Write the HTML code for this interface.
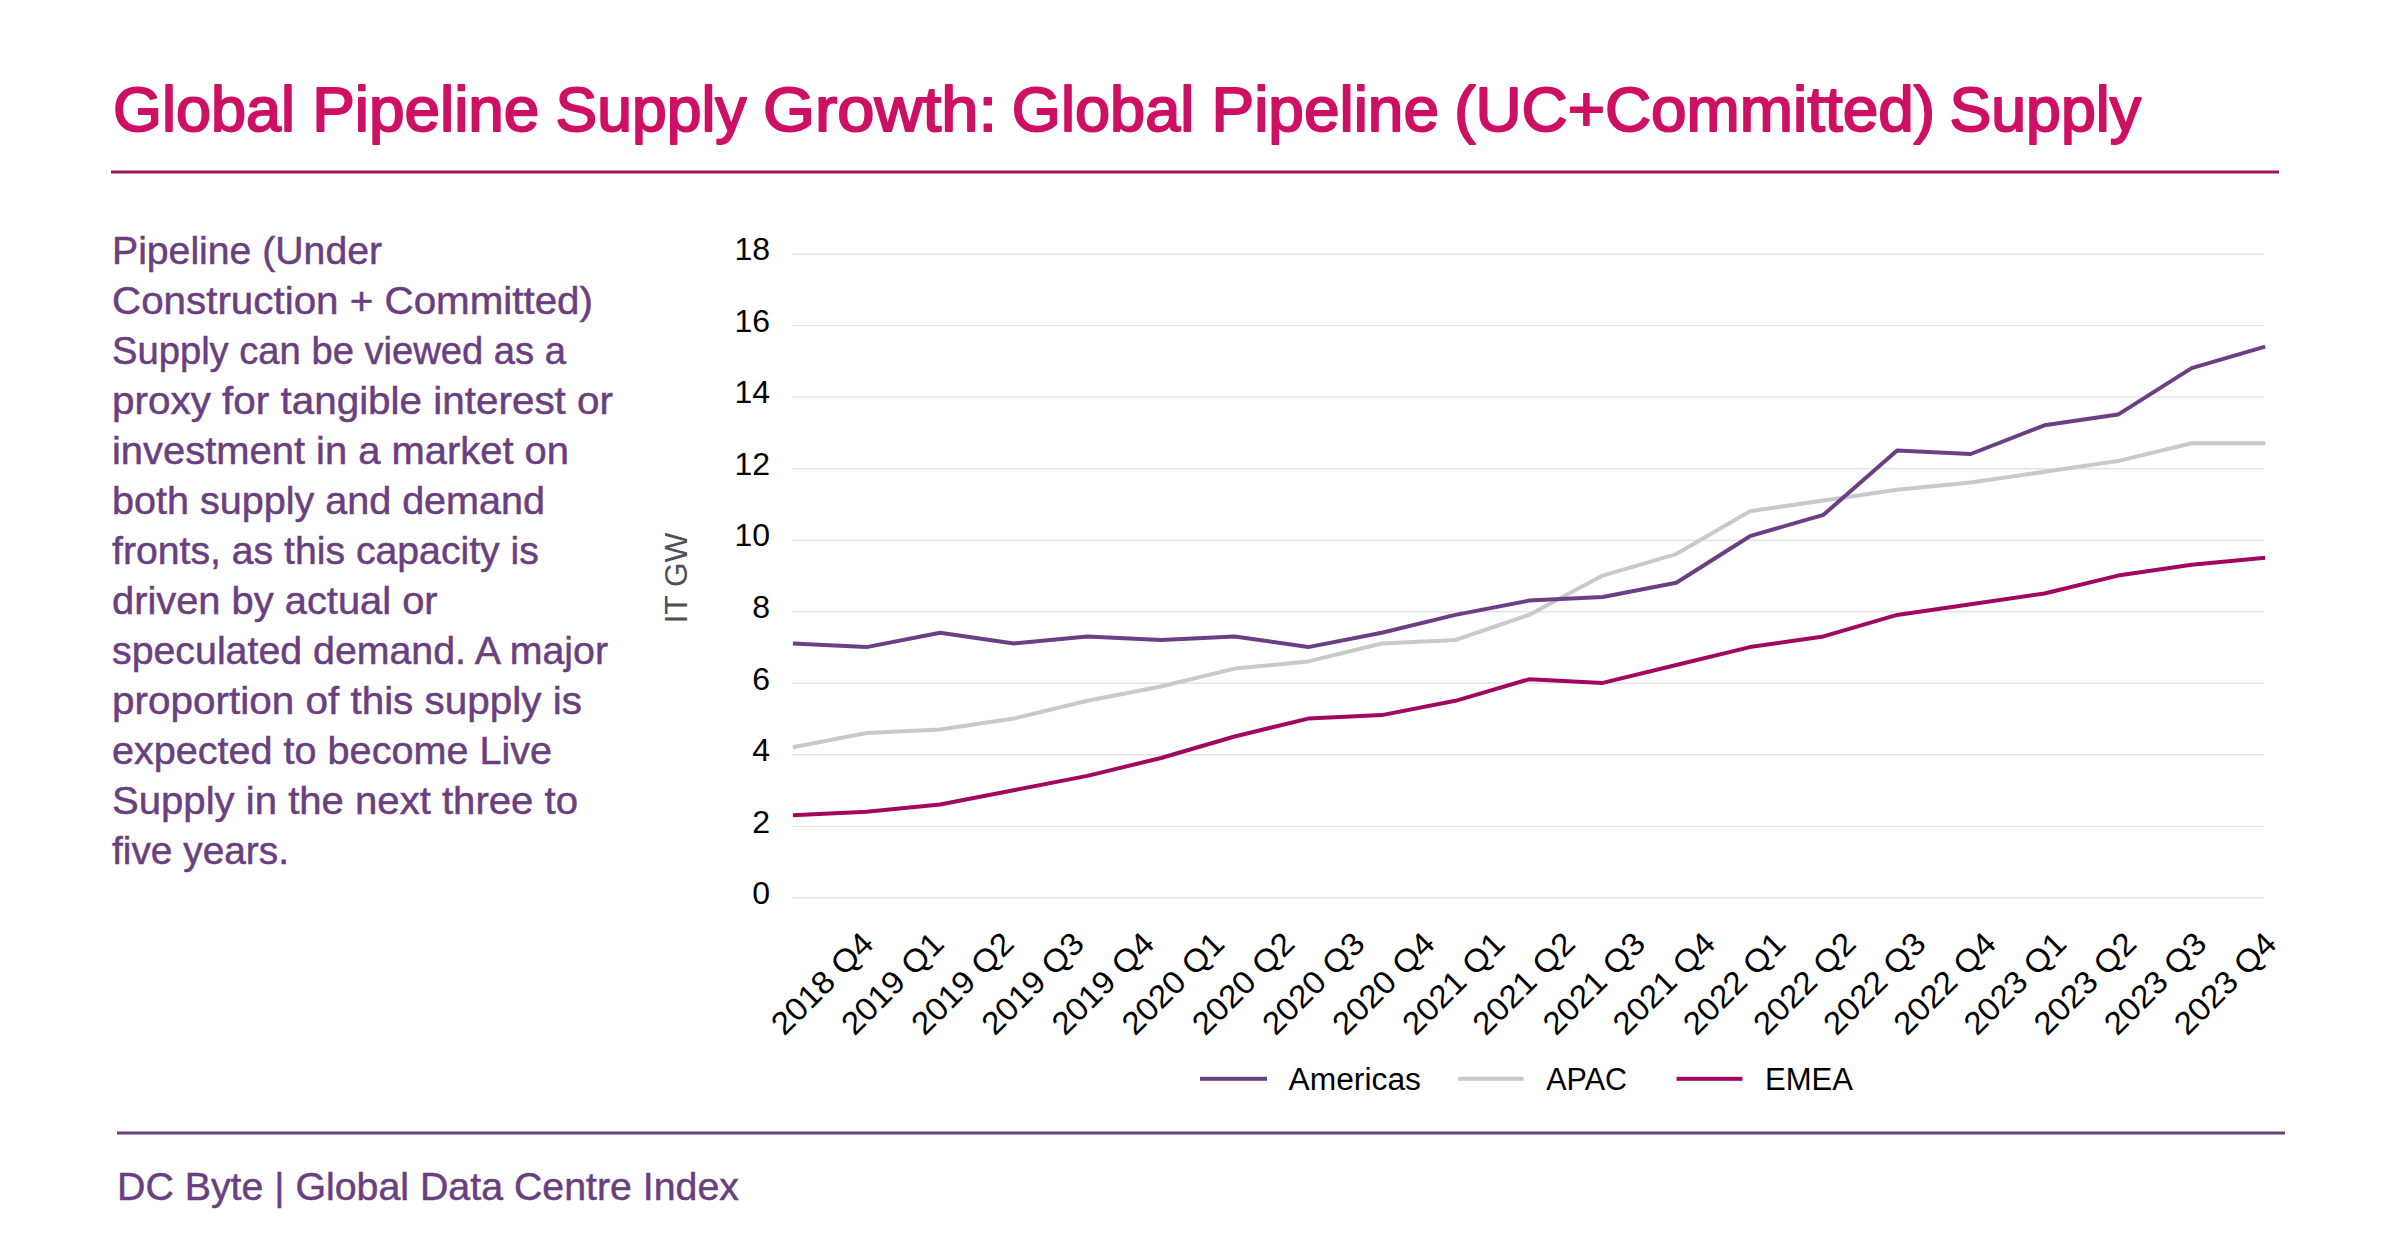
<!DOCTYPE html><html><head><meta charset="utf-8"><style>html,body{margin:0;padding:0;background:#fff;width:2400px;height:1256px;overflow:hidden}svg{display:block;font-family:"Liberation Sans",sans-serif}</style></head><body>
<svg width="2400" height="1256" viewBox="0 0 2400 1256">
<rect width="2400" height="1256" fill="#fff"/>
<text x="113.0" y="131.4" font-size="63.5" fill="#CE1064" font-weight="normal" textLength="182.0" lengthAdjust="spacingAndGlyphs" stroke="#CE1064" stroke-width="2.00" stroke-linejoin="round">Global</text>
<text x="312.2" y="131.4" font-size="63.5" fill="#CE1064" font-weight="normal" textLength="227.2" lengthAdjust="spacingAndGlyphs" stroke="#CE1064" stroke-width="2.00" stroke-linejoin="round">Pipeline</text>
<text x="555.5" y="131.4" font-size="63.5" fill="#CE1064" font-weight="normal" textLength="191.0" lengthAdjust="spacingAndGlyphs" stroke="#CE1064" stroke-width="2.00" stroke-linejoin="round">Supply</text>
<text x="763.0" y="131.4" font-size="63.5" fill="#CE1064" font-weight="normal" textLength="234.0" lengthAdjust="spacingAndGlyphs" stroke="#CE1064" stroke-width="2.00" stroke-linejoin="round">Growth:</text>
<text x="1011.8" y="131.4" font-size="63.5" fill="#CE1064" font-weight="normal" textLength="182.5" lengthAdjust="spacingAndGlyphs" stroke="#CE1064" stroke-width="2.00" stroke-linejoin="round">Global</text>
<text x="1211.5" y="131.4" font-size="63.5" fill="#CE1064" font-weight="normal" textLength="227.5" lengthAdjust="spacingAndGlyphs" stroke="#CE1064" stroke-width="2.00" stroke-linejoin="round">Pipeline</text>
<text x="1454.2" y="131.4" font-size="63.5" fill="#CE1064" font-weight="normal" textLength="480.8" lengthAdjust="spacingAndGlyphs" stroke="#CE1064" stroke-width="2.00" stroke-linejoin="round">(UC+Committed)</text>
<text x="1949.5" y="131.4" font-size="63.5" fill="#CE1064" font-weight="normal" textLength="191.5" lengthAdjust="spacingAndGlyphs" stroke="#CE1064" stroke-width="2.00" stroke-linejoin="round">Supply</text>
<rect x="111" y="170.5" width="2168" height="3.0" fill="#A0145A"/>
<text x="112.0" y="263.8" font-size="39.0" fill="#6A3F80" textLength="270.0" lengthAdjust="spacingAndGlyphs" stroke="#6A3F80" stroke-width="0.50">Pipeline (Under</text>
<text x="112.0" y="313.8" font-size="39.0" fill="#6A3F80" textLength="481.0" lengthAdjust="spacingAndGlyphs" stroke="#6A3F80" stroke-width="0.50">Construction + Committed)</text>
<text x="112.0" y="363.8" font-size="39.0" fill="#6A3F80" textLength="454.0" lengthAdjust="spacingAndGlyphs" stroke="#6A3F80" stroke-width="0.50">Supply can be viewed as a</text>
<text x="112.0" y="413.8" font-size="39.0" fill="#6A3F80" textLength="501.0" lengthAdjust="spacingAndGlyphs" stroke="#6A3F80" stroke-width="0.50">proxy for tangible interest or</text>
<text x="112.0" y="463.8" font-size="39.0" fill="#6A3F80" textLength="457.0" lengthAdjust="spacingAndGlyphs" stroke="#6A3F80" stroke-width="0.50">investment in a market on</text>
<text x="112.0" y="513.8" font-size="39.0" fill="#6A3F80" textLength="433.0" lengthAdjust="spacingAndGlyphs" stroke="#6A3F80" stroke-width="0.50">both supply and demand</text>
<text x="112.0" y="563.8" font-size="39.0" fill="#6A3F80" textLength="426.9" lengthAdjust="spacingAndGlyphs" stroke="#6A3F80" stroke-width="0.50">fronts, as this capacity is</text>
<text x="112.0" y="613.8" font-size="39.0" fill="#6A3F80" textLength="325.6" lengthAdjust="spacingAndGlyphs" stroke="#6A3F80" stroke-width="0.50">driven by actual or</text>
<text x="112.0" y="663.8" font-size="39.0" fill="#6A3F80" textLength="496.0" lengthAdjust="spacingAndGlyphs" stroke="#6A3F80" stroke-width="0.50">speculated demand. A major</text>
<text x="112.0" y="713.8" font-size="39.0" fill="#6A3F80" textLength="470.0" lengthAdjust="spacingAndGlyphs" stroke="#6A3F80" stroke-width="0.50">proportion of this supply is</text>
<text x="112.0" y="763.8" font-size="39.0" fill="#6A3F80" textLength="440.0" lengthAdjust="spacingAndGlyphs" stroke="#6A3F80" stroke-width="0.50">expected to become Live</text>
<text x="112.0" y="813.8" font-size="39.0" fill="#6A3F80" textLength="466.0" lengthAdjust="spacingAndGlyphs" stroke="#6A3F80" stroke-width="0.50">Supply in the next three to</text>
<text x="112.0" y="863.8" font-size="39.0" fill="#6A3F80" textLength="177.0" lengthAdjust="spacingAndGlyphs" stroke="#6A3F80" stroke-width="0.50">five years.</text>
<path d="M792 254.10H2264M792 325.63H2264M792 397.16H2264M792 468.69H2264M792 540.22H2264M792 611.75H2264M792 683.28H2264M792 754.81H2264M792 826.34H2264M792 897.87H2264" stroke="#E3E3E3" stroke-width="1.4" fill="none"/>
<text x="770.0" y="260.3" font-size="32.0" fill="#000" text-anchor="end">18</text>
<text x="770.0" y="331.8" font-size="32.0" fill="#000" text-anchor="end">16</text>
<text x="770.0" y="403.4" font-size="32.0" fill="#000" text-anchor="end">14</text>
<text x="770.0" y="474.9" font-size="32.0" fill="#000" text-anchor="end">12</text>
<text x="770.0" y="546.4" font-size="32.0" fill="#000" text-anchor="end">10</text>
<text x="770.0" y="618.0" font-size="32.0" fill="#000" text-anchor="end">8</text>
<text x="770.0" y="689.5" font-size="32.0" fill="#000" text-anchor="end">6</text>
<text x="770.0" y="761.0" font-size="32.0" fill="#000" text-anchor="end">4</text>
<text x="770.0" y="832.5" font-size="32.0" fill="#000" text-anchor="end">2</text>
<text x="770.0" y="904.1" font-size="32.0" fill="#000" text-anchor="end">0</text>
<text transform="translate(687.0 578.0) rotate(-90)" font-size="32.0" fill="#4F4F54" text-anchor="middle" textLength="91.0" lengthAdjust="spacingAndGlyphs">IT GW</text>
<g fill="none" stroke-width="4.0" stroke-linejoin="round" stroke-linecap="butt">
<polyline points="792.9,747.3 866.5,733.0 940.1,729.4 1013.7,718.6 1087.4,700.8 1161.0,686.5 1234.6,668.6 1308.2,661.4 1381.8,643.5 1455.4,640.0 1529.0,614.9 1602.7,575.6 1676.3,554.1 1749.9,511.2 1823.5,500.5 1897.1,489.7 1970.7,482.6 2044.4,471.8 2118.0,461.1 2191.6,443.2 2265.2,443.2" stroke="#C9C8CD"/>
<polyline points="792.9,815.2 866.5,811.7 940.1,804.5 1013.7,790.2 1087.4,775.9 1161.0,758.0 1234.6,736.5 1308.2,718.6 1381.8,715.1 1455.4,700.8 1529.0,679.3 1602.7,682.9 1676.3,665.0 1749.9,647.1 1823.5,636.4 1897.1,614.9 1970.7,604.2 2044.4,593.5 2118.0,575.6 2191.6,564.8 2265.2,557.7" stroke="#A2075F"/>
<polyline points="792.9,643.5 866.5,647.1 940.1,632.8 1013.7,643.5 1087.4,636.4 1161.0,640.0 1234.6,636.4 1308.2,647.1 1381.8,632.8 1455.4,614.9 1529.0,600.6 1602.7,597.0 1676.3,582.7 1749.9,536.2 1823.5,514.8 1897.1,450.4 1970.7,454.0 2044.4,425.3 2118.0,414.6 2191.6,368.1 2265.2,346.6" stroke="#6A3F84"/>
</g>
<text transform="translate(875.5 945.5) rotate(-45)" font-size="32.0" fill="#000" text-anchor="end" textLength="129.0" lengthAdjust="spacingAndGlyphs">2018 Q4</text>
<text transform="translate(945.6 945.5) rotate(-45)" font-size="32.0" fill="#000" text-anchor="end" textLength="129.0" lengthAdjust="spacingAndGlyphs">2019 Q1</text>
<text transform="translate(1015.8 945.5) rotate(-45)" font-size="32.0" fill="#000" text-anchor="end" textLength="129.0" lengthAdjust="spacingAndGlyphs">2019 Q2</text>
<text transform="translate(1086.0 945.5) rotate(-45)" font-size="32.0" fill="#000" text-anchor="end" textLength="129.0" lengthAdjust="spacingAndGlyphs">2019 Q3</text>
<text transform="translate(1156.1 945.5) rotate(-45)" font-size="32.0" fill="#000" text-anchor="end" textLength="129.0" lengthAdjust="spacingAndGlyphs">2019 Q4</text>
<text transform="translate(1226.2 945.5) rotate(-45)" font-size="32.0" fill="#000" text-anchor="end" textLength="129.0" lengthAdjust="spacingAndGlyphs">2020 Q1</text>
<text transform="translate(1296.4 945.5) rotate(-45)" font-size="32.0" fill="#000" text-anchor="end" textLength="129.0" lengthAdjust="spacingAndGlyphs">2020 Q2</text>
<text transform="translate(1366.6 945.5) rotate(-45)" font-size="32.0" fill="#000" text-anchor="end" textLength="129.0" lengthAdjust="spacingAndGlyphs">2020 Q3</text>
<text transform="translate(1436.7 945.5) rotate(-45)" font-size="32.0" fill="#000" text-anchor="end" textLength="129.0" lengthAdjust="spacingAndGlyphs">2020 Q4</text>
<text transform="translate(1506.8 945.5) rotate(-45)" font-size="32.0" fill="#000" text-anchor="end" textLength="129.0" lengthAdjust="spacingAndGlyphs">2021 Q1</text>
<text transform="translate(1577.0 945.5) rotate(-45)" font-size="32.0" fill="#000" text-anchor="end" textLength="129.0" lengthAdjust="spacingAndGlyphs">2021 Q2</text>
<text transform="translate(1647.2 945.5) rotate(-45)" font-size="32.0" fill="#000" text-anchor="end" textLength="129.0" lengthAdjust="spacingAndGlyphs">2021 Q3</text>
<text transform="translate(1717.3 945.5) rotate(-45)" font-size="32.0" fill="#000" text-anchor="end" textLength="129.0" lengthAdjust="spacingAndGlyphs">2021 Q4</text>
<text transform="translate(1787.5 945.5) rotate(-45)" font-size="32.0" fill="#000" text-anchor="end" textLength="129.0" lengthAdjust="spacingAndGlyphs">2022 Q1</text>
<text transform="translate(1857.6 945.5) rotate(-45)" font-size="32.0" fill="#000" text-anchor="end" textLength="129.0" lengthAdjust="spacingAndGlyphs">2022 Q2</text>
<text transform="translate(1927.8 945.5) rotate(-45)" font-size="32.0" fill="#000" text-anchor="end" textLength="129.0" lengthAdjust="spacingAndGlyphs">2022 Q3</text>
<text transform="translate(1997.9 945.5) rotate(-45)" font-size="32.0" fill="#000" text-anchor="end" textLength="129.0" lengthAdjust="spacingAndGlyphs">2022 Q4</text>
<text transform="translate(2068.1 945.5) rotate(-45)" font-size="32.0" fill="#000" text-anchor="end" textLength="129.0" lengthAdjust="spacingAndGlyphs">2023 Q1</text>
<text transform="translate(2138.2 945.5) rotate(-45)" font-size="32.0" fill="#000" text-anchor="end" textLength="129.0" lengthAdjust="spacingAndGlyphs">2023 Q2</text>
<text transform="translate(2208.4 945.5) rotate(-45)" font-size="32.0" fill="#000" text-anchor="end" textLength="129.0" lengthAdjust="spacingAndGlyphs">2023 Q3</text>
<text transform="translate(2278.5 945.5) rotate(-45)" font-size="32.0" fill="#000" text-anchor="end" textLength="129.0" lengthAdjust="spacingAndGlyphs">2023 Q4</text>
<rect x="1200.0" y="1076.8" width="67.0" height="4.0" fill="#6A3F84"/>
<text x="1288.5" y="1089.8" font-size="31.0" fill="#000" textLength="132.5" lengthAdjust="spacingAndGlyphs">Americas</text>
<rect x="1458.0" y="1076.8" width="65.5" height="4.0" fill="#C9C8CD"/>
<text x="1546.3" y="1089.8" font-size="31.0" fill="#000" textLength="80.7" lengthAdjust="spacingAndGlyphs">APAC</text>
<rect x="1676.5" y="1076.8" width="66.0" height="4.0" fill="#A2075F"/>
<text x="1765.0" y="1089.8" font-size="31.0" fill="#000" textLength="88.0" lengthAdjust="spacingAndGlyphs">EMEA</text>
<rect x="117" y="1131.5" width="2168" height="3.0" fill="#6A4079"/>
<text x="117.0" y="1199.6" font-size="39.0" fill="#6A3F80" textLength="622.0" lengthAdjust="spacingAndGlyphs" stroke="#6A3F80" stroke-width="0.50">DC Byte | Global Data Centre Index</text>
</svg></body></html>
